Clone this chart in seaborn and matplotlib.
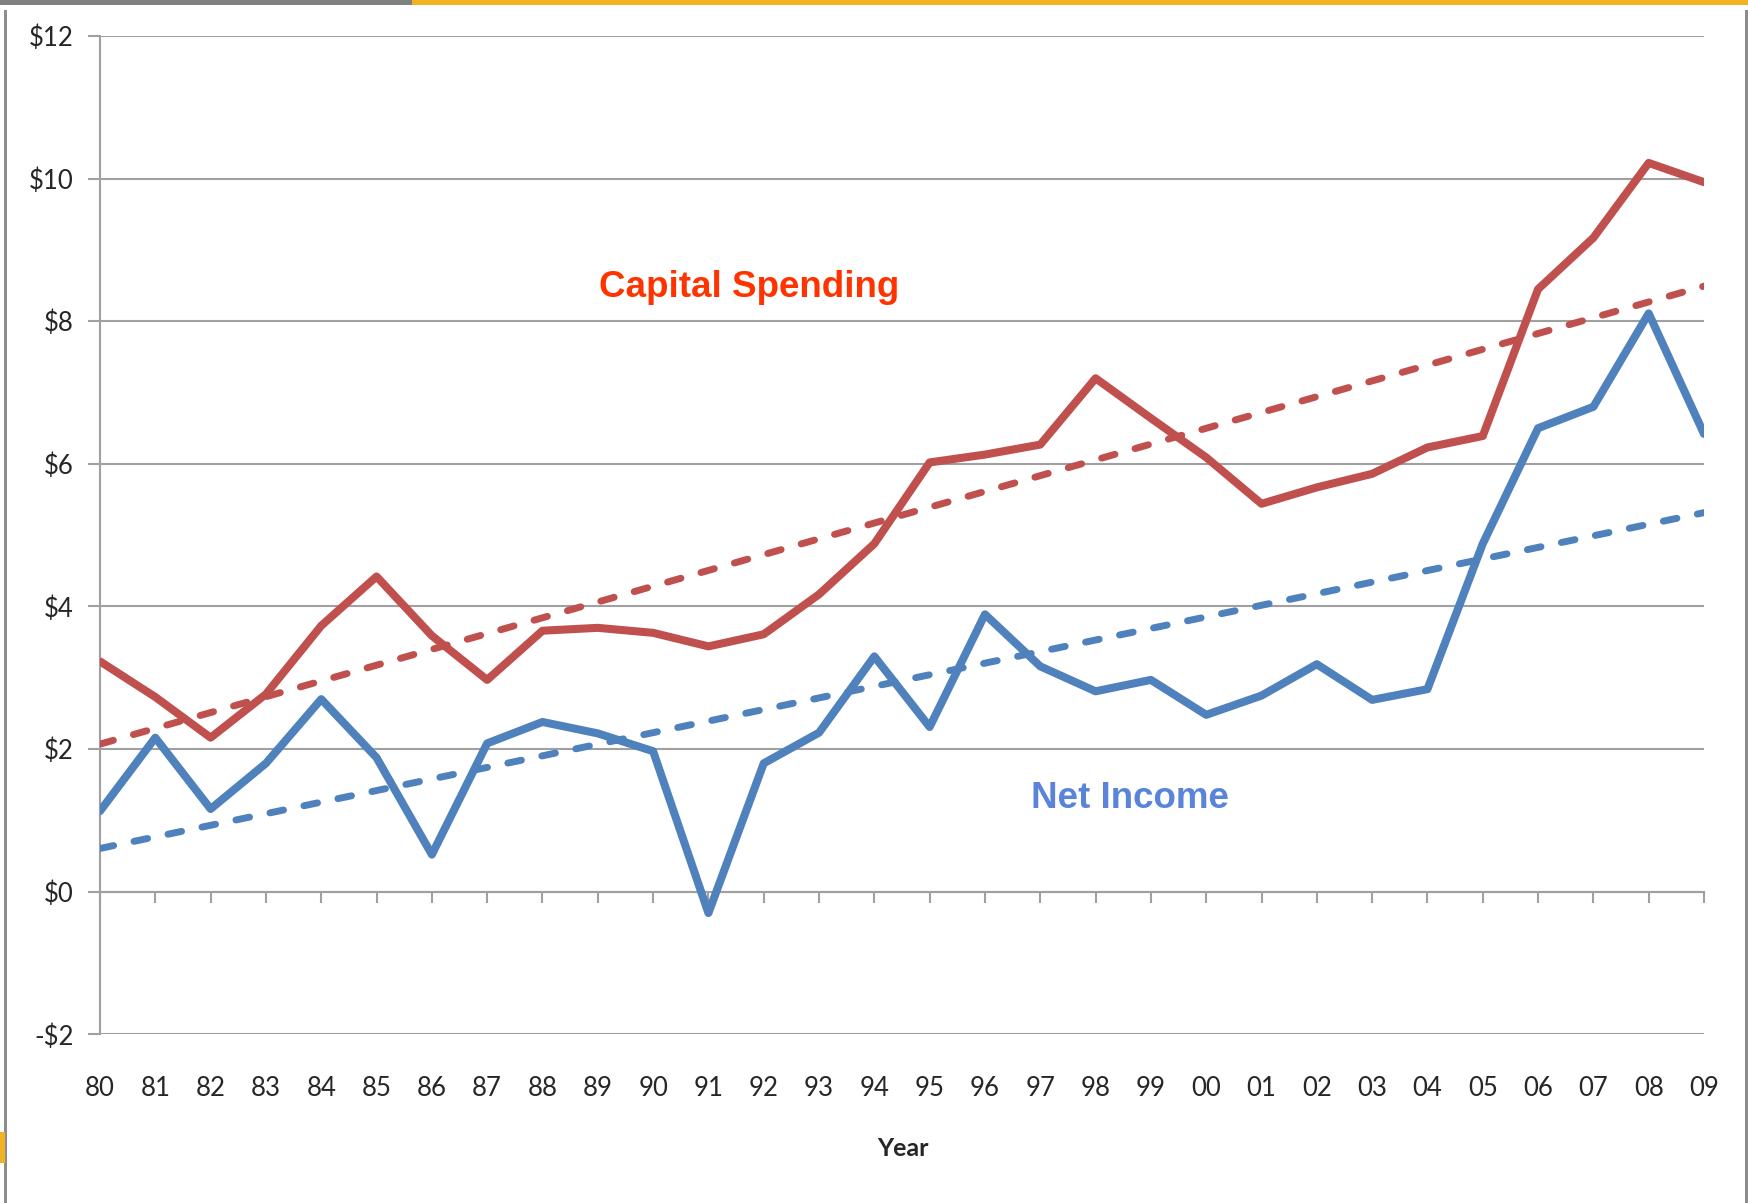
"""
Capital spending vs net income, 1980-2009, with linear trend lines.
"""

import numpy as np
import pandas as pd
import matplotlib
matplotlib.use('Agg')
import matplotlib.pyplot as plt
import seaborn as sns
from matplotlib.patches import Rectangle
from matplotlib.ticker import FuncFormatter

# ── Data ──────────────────────────────────────────────────────────────────
years = ['80', '81', '82', '83', '84', '85', '86', '87', '88', '89',
         '90', '91', '92', '93', '94', '95', '96', '97', '98', '99',
         '00', '01', '02', '03', '04', '05', '06', '07', '08', '09']

capital_spending = [3.23, 2.73, 2.16, 2.77, 3.73, 4.42, 3.59, 2.97, 3.66, 3.70,
                    3.63, 3.44, 3.61, 4.17, 4.88, 6.02, 6.13, 6.27, 7.20, 6.64,
                    6.09, 5.44, 5.67, 5.86, 6.23, 6.39, 8.45, 9.17, 10.22, 9.95]

net_income = [1.13, 2.16, 1.16, 1.80, 2.70, 1.88, 0.52, 2.08, 2.38, 2.22,
              1.97, -0.30, 1.80, 2.23, 3.30, 2.31, 3.89, 3.16, 2.81, 2.97,
              2.48, 2.75, 3.19, 2.69, 2.84, 4.88, 6.50, 6.80, 8.11, 6.42]

y_ticks = [-2, 0, 2, 4, 6, 8, 10, 12]

RED = '#C0504D'
BLUE = '#4F81BD'

df = pd.DataFrame({'idx': np.arange(len(years)),
                   'capital': capital_spending,
                   'income': net_income})

sns.set_style('white')
plt.rcParams['font.family'] = ['Lato', 'DejaVu Sans']

W, H = 1748, 1203
fig = plt.figure(figsize=(W / 100, H / 100), dpi=100)
ax = fig.add_axes([100 / W, 1 - 1034.3 / H, 1604 / W, (1034.3 - 36) / H])

# ── Lines + trends ────────────────────────────────────────────────────────
trend_kws = {'lw': 5.0, 'ls': '--', 'dashes': (2.0, 3.0),
             'dash_capstyle': 'round', 'zorder': 3}
sns.regplot(data=df, x='idx', y='capital', scatter=False, ci=None, ax=ax,
            line_kws={'color': RED, **trend_kws})
sns.regplot(data=df, x='idx', y='income', scatter=False, ci=None, ax=ax,
            line_kws={'color': BLUE, **trend_kws})
sns.lineplot(data=df, x='idx', y='capital', color=RED, lw=5.8, ax=ax, zorder=4)
sns.lineplot(data=df, x='idx', y='income', color=BLUE, lw=5.8, ax=ax, zorder=4)

# ── Axes styling ──────────────────────────────────────────────────────────
ax.set_xlim(0, len(years) - 1)
ax.set_ylim(-2, 12)
ax.set_yticks(y_ticks)
ax.yaxis.set_major_formatter(FuncFormatter(lambda v, _: f"-${abs(int(v))}" if v < 0 else f"${int(v)}"))
ax.grid(axis='y', color='#A0A0A0', lw=1.5)
ax.set_axisbelow(True)
for s in ['top', 'right']:
    ax.spines[s].set_visible(False)
ax.spines['left'].set_color('#A0A0A0')
ax.spines['left'].set_linewidth(1.5)
ax.spines['bottom'].set_position(('data', 0))
ax.spines['bottom'].set_color('#A0A0A0')
ax.spines['bottom'].set_linewidth(1.5)

ax.set_xticks(np.arange(len(years)))
ax.tick_params(axis='x', direction='out', length=8, width=1.5, color='#A0A0A0',
               labelbottom=False, bottom=True)
ax.tick_params(axis='y', direction='out', length=9, width=1.5, color='#A0A0A0',
               labelsize=18.5, pad=10, left=True)
ax.set_xlabel('')
ax.set_ylabel('')

# year labels sit at the bottom of the plot, ticks stay on the zero line
sec = ax.secondary_xaxis('bottom')
sec.set_xticks(np.arange(len(years)))
sec.set_xticklabels(years)
sec.tick_params(axis='x', length=0, labelsize=18.5, pad=30)
sec.spines['bottom'].set_visible(False)

fig.text(903 / W, 1 - 1148 / H, 'Year', ha='center', va='center',
         fontsize=18, fontweight='bold')

# ── Series labels ─────────────────────────────────────────────────────────
ax.text(11.74, 8.47, 'Capital Spending', ha='center', va='center', color='#FF3300',
        fontsize=26.5, fontweight='bold', family=['Liberation Sans', 'DejaVu Sans'])
ax.text(18.63, 1.30, 'Net Income', ha='center', va='center', color='#5A84DA',
        fontsize=26.5, fontweight='bold', family=['Liberation Sans', 'DejaVu Sans'])

# ── Slide decorations ────────────────────────────────────────────────────
fig.add_artist(Rectangle((0, 1 - 4.5 / H), 412 / W, 4.5 / H, transform=fig.transFigure,
                         color='#808080', lw=0))
fig.add_artist(Rectangle((412 / W, 1 - 4.5 / H), 1 - 412 / W, 4.5 / H,
                         transform=fig.transFigure, color='#F0B323', lw=0))
fig.add_artist(Rectangle((4 / W, 0), 3 / W, 1 - 10 / H, transform=fig.transFigure,
                         color='#8C8C8C', lw=0))
fig.add_artist(Rectangle((1745 / W, 0), 3 / W, 1 - 10 / H, transform=fig.transFigure,
                         color='#8C8C8C', lw=0))
fig.add_artist(Rectangle((0, 1 - 1163 / H), 5 / W, 31 / H, transform=fig.transFigure,
                         color='#F0B323', lw=0))

fig.savefig('out.png', dpi=100)
